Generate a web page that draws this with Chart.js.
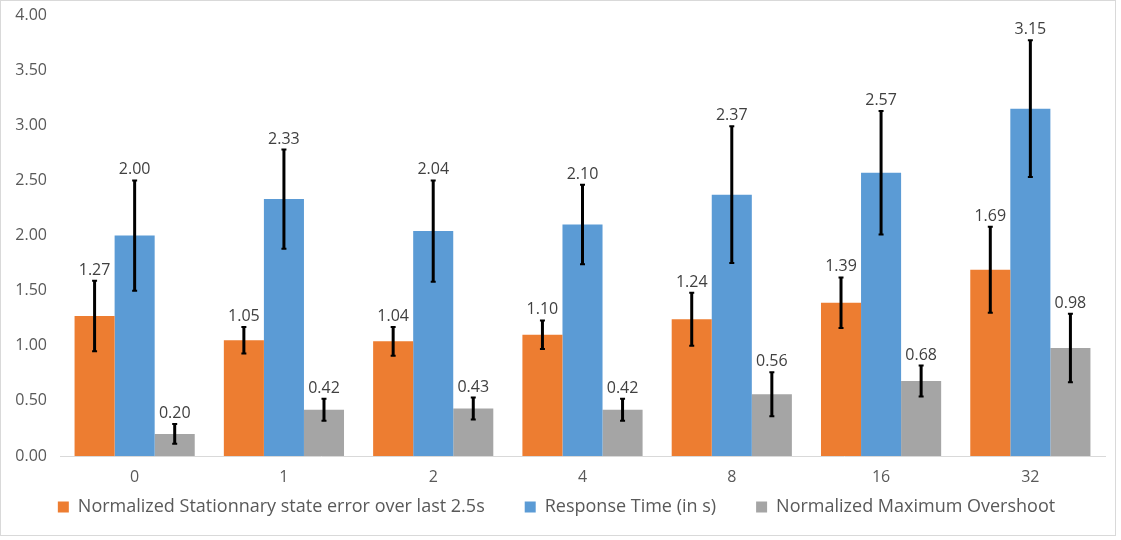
<!DOCTYPE html>
<html lang="en">
<head>
    <meta charset="UTF-8">
    <title>Chart</title>
    <style>
        body {
            margin: 0;
            padding: 0;
            background: #fff;
            overflow: hidden;
        }
        .box {
            position: absolute;
            left: 0;
            top: 0;
            width: 1114px;
            height: 534px;
            border: 1px solid #d9d9d9;
        }
        canvas {
            position: absolute;
            left: 0;
            top: 0;
        }
    </style>
</head>
<body>
    <div class="box"></div>
    <canvas id="chart" width="1121" height="540"></canvas>
    <script src="https://cdn.jsdelivr.net/npm/chart.js@4.4.1/dist/chart.umd.min.js"></script>
    <script>
        const categories = ['0', '1', '2', '4', '8', '16', '32'];
        const seriesNames = ['Normalized Stationnary state error over last 2.5s', 'Response Time (in s)', 'Normalized Maximum Overshoot'];
        const errorValues = [1.27, 1.05, 1.04, 1.10, 1.24, 1.39, 1.69];
        const responseValues = [2.00, 2.33, 2.04, 2.10, 2.37, 2.57, 3.15];
        const overshootValues = [0.20, 0.42, 0.43, 0.42, 0.56, 0.68, 0.98];
        // +/- spread of the error bars
        const errorSpread = [0.32, 0.12, 0.13, 0.13, 0.24, 0.23, 0.39];
        const responseSpread = [0.50, 0.45, 0.46, 0.36, 0.62, 0.56, 0.62];
        const overshootSpread = [0.09, 0.10, 0.10, 0.10, 0.20, 0.14, 0.31];
        const spreads = [errorSpread, responseSpread, overshootSpread];

        const fontFamily = "'Open Sans', sans-serif";

        // draws error bars and value labels on top of the bars
        const errorBars = {
            id: 'errorBars',
            afterLayout(chart) {
                // x axis is squeezed to 2px so its labels share the legend's top padding;
                // widen its box again so the labels are not clipped away
                chart.scales.x.bottom = chart.height;
            },
            afterDatasetsDraw(chart) {
                const ctx = chart.ctx;
                const y = chart.scales.y;
                ctx.save();
                chart.data.datasets.forEach((ds, i) => {
                    const meta = chart.getDatasetMeta(i);
                    meta.data.forEach((bar, j) => {
                        const v = ds.data[j];
                        const s = spreads[i][j];
                        const top = y.getPixelForValue(v + s);
                        const bottom = y.getPixelForValue(v - s);
                        ctx.strokeStyle = '#000';
                        ctx.lineWidth = 3;
                        ctx.beginPath();
                        ctx.moveTo(bar.x, top);
                        ctx.lineTo(bar.x, bottom);
                        ctx.stroke();
                        ctx.lineWidth = 2;
                        ctx.beginPath();
                        ctx.moveTo(bar.x - 2.5, top);
                        ctx.lineTo(bar.x + 2.5, top);
                        ctx.moveTo(bar.x - 2.5, bottom);
                        ctx.lineTo(bar.x + 2.5, bottom);
                        ctx.stroke();

                        ctx.fillStyle = '#404040';
                        ctx.font = '16px ' + fontFamily;
                        ctx.textAlign = 'center';
                        ctx.textBaseline = 'alphabetic';
                        ctx.fillText(v.toFixed(2), bar.x, top - 6);
                    });
                });
                ctx.restore();
            }
        };

        Chart.defaults.font.family = fontFamily;

        new Chart(document.getElementById('chart'), {
            type: 'bar',
            data: {
                labels: categories,
                datasets: [
                    { label: seriesNames[0], data: errorValues, backgroundColor: '#ED7D31' },
                    { label: seriesNames[1], data: responseValues, backgroundColor: '#5B9BD5' },
                    { label: seriesNames[2], data: overshootValues, backgroundColor: '#A5A5A5' }
                ]
            },
            options: {
                responsive: false,
                animation: false,
                layout: { padding: { left: 8, right: 16, top: 15, bottom: 14 } },
                datasets: {
                    bar: { categoryPercentage: 0.805, barPercentage: 1.0 }
                },
                scales: {
                    x: {
                        grid: { display: false },
                        border: { color: '#d9d9d9', width: 1 },
                        afterFit(scale) { scale.height = 2; },
                        ticks: { color: '#595959', font: { size: 16 }, padding: 4, autoSkip: false }
                    },
                    y: {
                        min: 0,
                        max: 4,
                        grid: { display: false },
                        border: { display: false },
                        afterFit(scale) { scale.width = 52; },
                        ticks: {
                            stepSize: 0.5,
                            padding: 5,
                            color: '#595959',
                            font: { size: 16 },
                            callback: v => v.toFixed(2)
                        }
                    }
                },
                plugins: {
                    legend: {
                        position: 'bottom',
                        labels: {
                            color: '#595959',
                            font: { size: 18 },
                            boxWidth: 11,
                            boxHeight: 11,
                            padding: 40
                        }
                    },
                    tooltip: { enabled: false }
                }
            },
            plugins: [errorBars]
        });
    </script>
</body>
</html>
